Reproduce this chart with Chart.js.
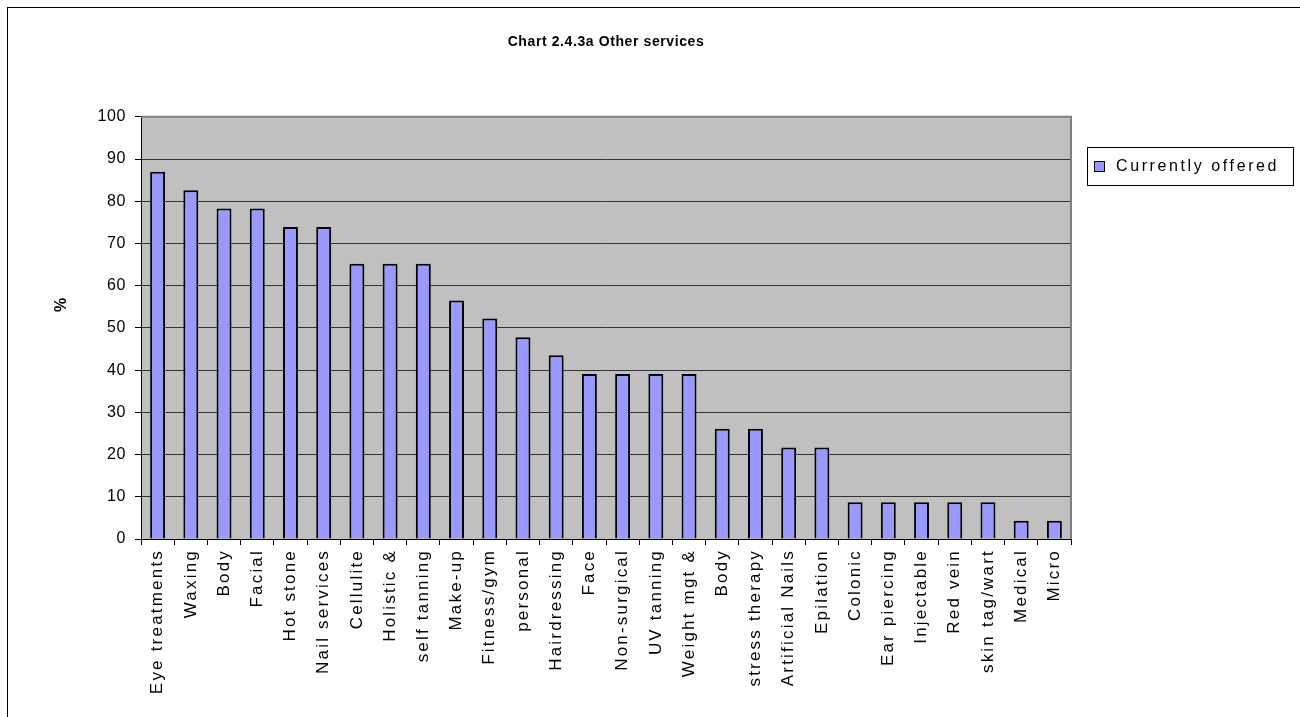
<!DOCTYPE html>
<html>
<head>
<meta charset="utf-8">
<title>Other services</title>
<script src="https://cdn.jsdelivr.net/npm/chart.js@4"></script>
<style>
  html, body { margin: 0; padding: 0; background: #fff; }
  canvas { display: block; }
</style>
</head>
<body>
<canvas id="servicesChart" width="1300" height="717"></canvas>
<script>
const services = [
  'Eye treatments', 'Waxing', 'Body', 'Facial', 'Hot stone', 'Nail services',
  'Cellulite', 'Holistic &', 'self tanning', 'Make-up', 'Fitness/gym', 'personal',
  'Hairdressing', 'Face', 'Non-surgical', 'UV tanning', 'Weight mgt &', 'Body',
  'stress therapy', 'Artificial Nails', 'Epilation', 'Colonic', 'Ear piercing',
  'Injectable', 'Red vein', 'skin tag/wart', 'Medical', 'Micro'
];
const currentlyOffered = [
  87, 82.6, 78.3, 78.3, 73.9, 73.9,
  65.2, 65.2, 65.2, 56.5, 52.2, 47.8,
  43.5, 39.1, 39.1, 39.1, 39.1, 26.1,
  26.1, 21.7, 21.7, 8.7, 8.7,
  8.7, 8.7, 8.7, 4.3, 4.3
];
const yTicks = [0, 10, 20, 30, 40, 50, 60, 70, 80, 90, 100];

const FONT = 'Arial, "Liberation Sans", sans-serif';

// grey plot background, frames, axis title and legend box
const frame = {
  id: 'frame',
  beforeDraw(chart) {
    const { ctx, chartArea: a } = chart;
    ctx.fillStyle = '#c0c0c0';
    ctx.fillRect(a.left, a.top, a.right - a.left, a.bottom - a.top);
    // the old chart text is slightly tracked out
    ctx.letterSpacing = '0.6px';
  },
  afterDatasetsDraw(chart) {
    // category labels are drawn after this (ticks z: 1) with wider tracking
    chart.ctx.letterSpacing = '2.2px';
  },
  afterDraw(chart) {
    const { ctx, chartArea: a } = chart;
    ctx.save();
    ctx.strokeStyle = '#808080';
    ctx.lineWidth = 2;
    ctx.beginPath();
    ctx.moveTo(a.left, a.top);
    ctx.lineTo(a.right, a.top);
    ctx.lineTo(a.right, a.bottom);
    ctx.stroke();

    ctx.strokeStyle = '#000';
    ctx.lineWidth = 1;
    ctx.strokeRect(7.5, 7.5, 1400, 800);

    // y axis title
    ctx.save();
    ctx.translate(62, 305);
    ctx.rotate(-Math.PI / 2);
    ctx.letterSpacing = '0px';
    ctx.font = 'bold 16px ' + FONT;
    ctx.fillStyle = '#000';
    ctx.textAlign = 'center';
    ctx.textBaseline = 'middle';
    ctx.fillText('%', 0, 0);
    ctx.restore();

    // legend
    const ds = chart.data.datasets[0];
    ctx.strokeRect(1087.5, 147.5, 206, 38);
    ctx.fillStyle = ds.backgroundColor;
    ctx.fillRect(1094.5, 161.5, 10, 10);
    ctx.strokeRect(1094.5, 161.5, 10, 10);
    ctx.fillStyle = '#000';
    ctx.letterSpacing = '2.6px';
    ctx.font = '16px ' + FONT;
    ctx.textBaseline = 'middle';
    ctx.fillText(ds.label, 1116, 167);
    ctx.restore();
    ctx.letterSpacing = '0px';
  }
};

new Chart(document.getElementById('servicesChart'), {
  type: 'bar',
  data: {
    labels: services,
    datasets: [{
      label: 'Currently offered',
      data: currentlyOffered,
      backgroundColor: '#9999ff',
      borderColor: '#000',
      borderWidth: 2,
      categoryPercentage: 1,
      barPercentage: 0.45
    }]
  },
  options: {
    responsive: false,
    animation: false,
    layout: { padding: { left: 0, right: 229, top: 0, bottom: 0 } },
    plugins: {
      legend: { display: false },
      tooltip: { enabled: false },
      title: {
        display: true,
        fullSize: false,
        text: 'Chart 2.4.3a Other services',
        color: '#000',
        font: { family: FONT, size: 14, weight: 'bold' },
        padding: { top: 34, bottom: 66 }
      }
    },
    scales: {
      x: {
        grid: {
          offset: true,
          drawOnChartArea: false,
          color: '#000',
          tickLength: 6
        },
        border: { color: '#000', width: 1 },
        ticks: {
          z: 1,
          autoSkip: false,
          minRotation: 90,
          maxRotation: 90,
          padding: 4,
          color: '#000',
          font: { family: FONT, size: 17 }
        },
        afterFit(scale) { scale.height = 178; }
      },
      y: {
        min: 0,
        max: 100,
        afterBuildTicks(scale) { scale.ticks = yTicks.map(v => ({ value: v })); },
        grid: { color: '#333', lineWidth: 1, tickColor: '#000', tickLength: 6 },
        border: { color: '#000', width: 1 },
        ticks: {
          padding: 9,
          color: '#000',
          font: { family: FONT, size: 16 }
        },
        afterFit(scale) { scale.width = 141; }
      }
    }
  },
  plugins: [frame]
});
</script>
</body>
</html>
